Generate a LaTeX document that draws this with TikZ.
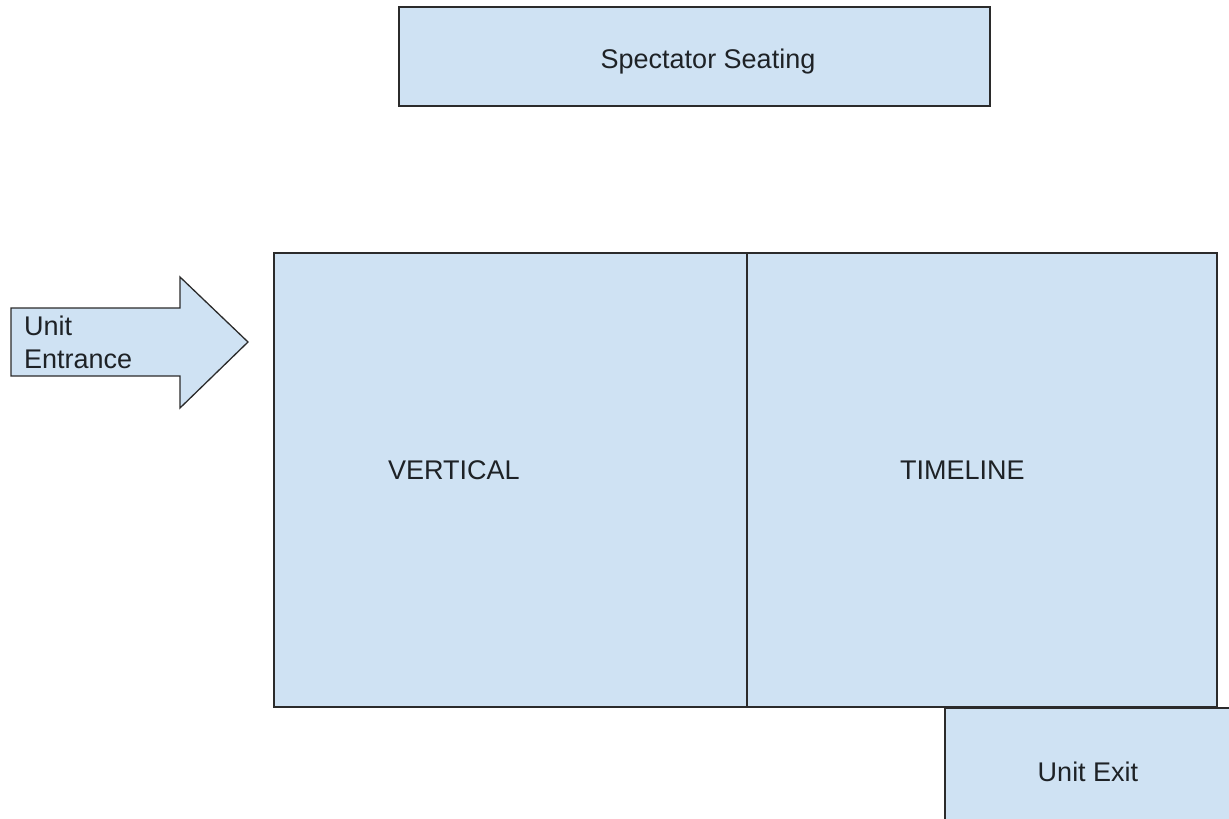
\documentclass[tikz,border=0pt]{standalone}
\usepackage{fontspec}
\setmainfont{Liberation Sans}
\definecolor{boxfill}{HTML}{CFE2F3}
\definecolor{boxline}{HTML}{2B2B2B}
\definecolor{txt}{HTML}{1E2226}
\begin{document}
\begin{tikzpicture}[x=1pt,y=-1pt,
  area/.style={draw=boxline,fill=boxfill,line width=1.3pt},
  lbl/.style={inner sep=0pt,text=txt,font=\fontsize{27}{32}\selectfont}]
\useasboundingbox (0,0) rectangle (1229,819);
% Spectator seating
\draw[area] (399,7) rectangle (990,106);
\node[lbl] (spect) at (708,62) {Spectator Seating};
% main area
\draw[area] (274,253) rectangle (747,707);
\draw[area] (747,253) rectangle (1217,707);
\node[lbl,anchor=west] (vert) at (388,470) {VERTICAL};
\node[lbl,anchor=west] (time) at (900,470) {TIMELINE};
% unit exit
\fill[boxfill] (945,708) rectangle (1229,819);
\draw[boxline,line width=1.3pt] (945,819) -- (945,708) -- (1229,708);
\node[lbl] (exit) at (1088,772) {Unit Exit};
% arrow
\draw[area,line join=miter] (11,308) -- (180,308) -- (180,277) -- (248,342) -- (180,408) -- (180,376) -- (11,376) -- cycle;
\node[lbl,anchor=west,align=left,font=\fontsize{27}{33}\selectfont] (ent) at (24,342) {Unit\\Entrance};
\end{tikzpicture}
\end{document}
